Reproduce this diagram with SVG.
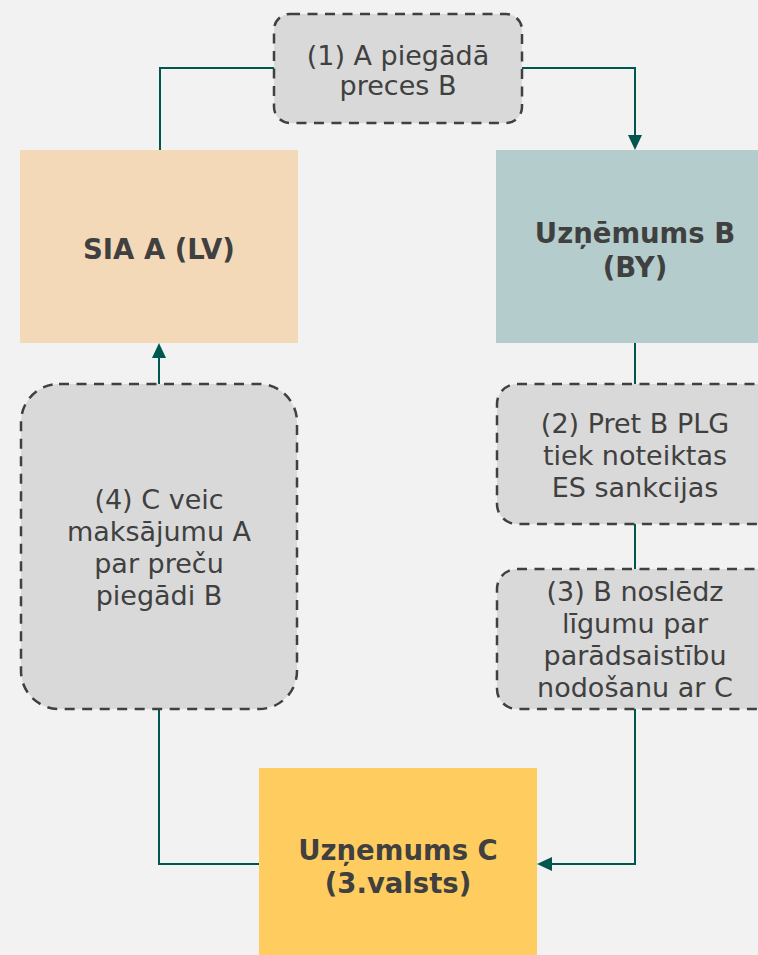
<svg xmlns="http://www.w3.org/2000/svg" width="758" height="955" viewBox="0 0 758 955">
<defs>
<style>
.bg{fill:#f2f2f2}
.dash{fill:#d9d9d9;stroke:#404040;stroke-width:2.5;stroke-dasharray:10 7.5}
.t{font-family:"DejaVu Sans",Verdana,sans-serif;font-size:27px;fill:#404040;text-anchor:middle}
.b{font-weight:bold;font-size:27.5px}
.c{fill:none;stroke:#00574f;stroke-width:2}
.ah{fill:#00574f}
</style>
</defs>
<rect class="bg" x="0" y="0" width="758" height="955"/>
<g id="connectors">
<path class="c" d="M160,150 V68 H274"/>
<path class="c" d="M522,68 H635 V136"/>
<path class="ah" d="M628,135 L642,135 L635,150 z"/>
<path class="c" d="M635,343 V384"/>
<path class="c" d="M635,524 V569"/>
<path class="c" d="M635,709 V864 H551"/>
<path class="ah" d="M552,857 L552,871 L537,864 z"/>
<path class="c" d="M259,864 H159 V709"/>
<path class="c" d="M159,384 V357"/>
<path class="ah" d="M152,358 L166,358 L159,343 z"/>
</g>
<g id="n1">
<rect class="dash" x="274" y="14" width="248" height="109" rx="16"/>
<text class="t" x="398" y="65">(1) A piegādā</text>
<text class="t" x="398" y="95">preces B</text>
</g>
<g id="nA">
<rect x="20" y="150" width="278" height="193" fill="#f4d9b8"/>
<text class="t b" x="159" y="259">SIA A (LV)</text>
</g>
<g id="nB">
<rect x="496" y="150" width="262" height="193" fill="#b4cccb"/>
<text class="t b" x="635" y="243">Uzņēmums B</text>
<text class="t b" x="635" y="277">(BY)</text>
</g>
<g id="n2">
<rect class="dash" x="497" y="384" width="280" height="140" rx="20"/>
<text class="t" x="635" y="433">(2) Pret B PLG</text>
<text class="t" x="635" y="465">tiek noteiktas</text>
<text class="t" x="635" y="497">ES sankcijas</text>
</g>
<g id="n3">
<rect class="dash" x="497" y="569" width="280" height="140" rx="20"/>
<text class="t" x="635" y="601">(3) B noslēdz</text>
<text class="t" x="635" y="633">līgumu par</text>
<text class="t" x="635" y="665">parādsaistību</text>
<text class="t" x="635" y="697">nodošanu ar C</text>
</g>
<g id="n4">
<rect class="dash" x="21" y="384" width="276" height="325" rx="38"/>
<text class="t" x="159" y="509">(4) C veic</text>
<text class="t" x="159" y="541">maksājumu A</text>
<text class="t" x="159" y="573">par preču</text>
<text class="t" x="159" y="605">piegādi B</text>
</g>
<g id="nC">
<rect x="259" y="768" width="278" height="200" fill="#ffcd5f"/>
<text class="t b" x="398" y="860">Uzņemums C</text>
<text class="t b" x="398" y="893">(3.valsts)</text>
</g>
</svg>
